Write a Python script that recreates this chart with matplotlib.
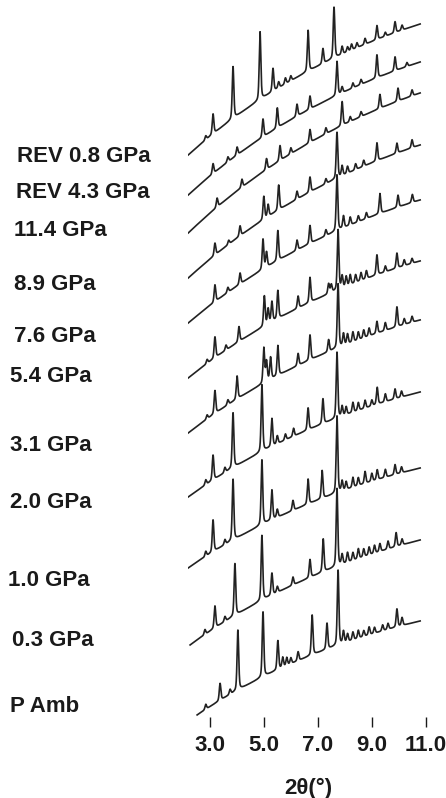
import numpy as np
from matplotlib import pyplot

# pressure labels, top to bottom
labels = ["REV 0.8 GPa", "REV 4.3 GPa", "11.4 GPa", "8.9 GPa", "7.6 GPa",
          "5.4 GPa", "3.1 GPa", "2.0 GPa", "1.0 GPa", "0.3 GPa", "P Amb"]

# background level at the first and last point of each pattern (stacked, arb. units)
level_start = [562, 522, 484, 439, 394, 339, 284, 220, 149, 72, 2]
level_end = [693, 655, 624, 572, 517, 456, 397, 325, 249, 177, 96]
theta_start = [2.2, 2.2, 2.2, 2.2, 2.2, 2.2, 2.2, 2.2, 2.2, 2.27, 2.53]
theta_end = 10.79

# reflections (2theta, intensity above background)
p_rev08 = [(2.85, 4), (3.12, 20), (3.86, 52), (4.86, 68), (5.34, 23), (5.55, 6), (5.8, 6),
           (6.0, 5), (6.64, 41), (7.19, 15), (7.60, 51), (7.9, 8), (8.1, 5), (8.25, 6),
           (8.45, 5), (8.75, 6), (9.19, 14), (9.5, 4), (9.86, 11), (10.12, 5)]
p_rev43 = [(3.12, 10), (3.67, 5), (4.01, 8), (4.97, 18), (5.5, 20), (6.23, 12), (6.71, 13),
           (7.71, 34), (7.9, 6), (8.3, 5), (8.6, 5), (9.19, 23), (9.86, 14), (10.3, 4)]
p_114 = [(3.27, 9), (4.19, 8), (5.1, 11), (5.6, 15), (6.0, 6), (6.71, 13), (7.3, 6),
         (7.90, 24), (8.2, 5), (8.6, 5), (9.30, 14), (9.97, 13), (10.49, 6)]
p_89 = [(3.19, 12), (3.7, 4), (4.12, 10), (5.0, 23), (5.16, 12), (5.55, 25), (6.23, 8),
        (6.71, 15), (7.3, 5), (7.71, 46), (7.9, 10), (8.1, 7), (8.4, 6), (8.7, 6),
        (9.19, 18), (9.93, 10), (10.49, 8)]
p_76 = [(3.19, 17), (3.67, 5), (4.12, 11), (4.97, 30), (5.1, 15), (5.52, 30), (6.23, 10),
        (6.71, 18), (7.3, 6), (7.71, 56), (7.95, 12), (8.2, 8), (8.5, 6), (8.8, 6),
        (9.3, 20), (9.97, 12), (10.5, 8)]
p_54 = [(2.9, 4), (3.19, 21), (3.6, 5), (4.08, 15), (5.02, 30), (5.16, 15), (5.3, 20),
        (5.52, 28), (6.27, 12), (6.71, 25), (7.4, 10), (7.5, 8), (7.75, 60), (7.9, 12),
        (8.05, 10), (8.2, 10), (8.4, 8), (8.6, 8), (8.8, 8), (9.19, 20), (9.5, 6),
        (9.93, 15), (10.2, 6), (10.49, 5)]
p_31 = [(2.9, 4), (3.19, 23), (3.67, 5), (4.01, 23), (5.0, 35), (5.1, 20), (5.25, 22),
        (5.52, 30), (6.27, 12), (6.71, 25), (7.4, 12), (7.75, 64), (7.95, 12), (8.1, 10),
        (8.3, 10), (8.5, 8), (8.7, 8), (8.9, 8), (9.19, 12), (9.5, 8), (9.93, 20),
        (10.2, 6), (10.49, 6)]
p_20 = [(2.85, 5), (3.12, 25), (3.56, 5), (3.86, 55), (4.93, 67), (5.3, 28), (5.5, 8),
        (5.8, 6), (6.1, 8), (6.64, 22), (7.19, 25), (7.71, 66), (7.9, 10), (8.05, 8),
        (8.3, 10), (8.5, 8), (8.75, 8), (9.0, 6), (9.2, 17), (9.5, 8), (9.86, 10), (10.1, 6)]
p_10 = [(2.85, 5), (3.12, 32), (3.56, 5), (3.86, 61), (4.93, 65), (5.3, 30), (5.5, 8),
        (6.08, 10), (6.64, 25), (7.16, 28), (7.71, 77), (7.9, 10), (8.05, 8), (8.3, 10),
        (8.5, 8), (8.75, 12), (9.0, 8), (9.2, 10), (9.5, 8), (9.86, 10), (10.1, 6)]
p_03 = [(2.82, 5), (3.19, 22), (3.56, 5), (3.93, 52), (4.93, 65), (5.3, 22), (5.5, 6),
        (6.08, 8), (6.71, 18), (7.2, 33), (7.71, 78), (7.9, 10), (8.1, 10), (8.3, 8),
        (8.5, 10), (8.7, 8), (8.9, 8), (9.1, 8), (9.3, 8), (9.6, 8), (9.9, 14), (10.12, 6)]
p_amb = [(2.85, 5), (3.38, 17), (3.75, 5), (4.04, 60), (4.97, 65), (5.52, 29), (5.7, 10),
         (5.85, 8), (6.0, 6), (6.27, 9), (6.79, 40), (7.34, 26), (7.75, 75), (7.95, 12),
         (8.1, 8), (8.3, 8), (8.5, 8), (8.7, 6), (8.9, 8), (9.1, 6), (9.4, 6), (9.6, 6),
         (9.93, 18), (10.12, 8)]
peaks = [p_rev08, p_rev43, p_114, p_89, p_76, p_54, p_31, p_20, p_10, p_03, p_amb]

ticks = [3, 5, 7, 9, 11]
tick_labels = ["3.0", "5.0", "7.0", "9.0", "11.0"]


def profile(x, center, height, width=0.07):
    d = (x - center) / width
    gauss = np.exp(-4 * np.log(2) * d ** 2)
    lorentz = 1 / (1 + 4 * d ** 2)
    return height * (0.6 * gauss + 0.4 * lorentz)


def pattern(i):
    x = np.linspace(theta_start[i], theta_end, 3000)
    t = (x - x[0]) / (x[-1] - x[0])
    k = 1.0
    y = level_start[i] + (level_end[i] - level_start[i]) * (1 - np.exp(-k * t)) / (1 - np.exp(-k))
    for c, h in peaks[i]:
        y = y + profile(x, c, h)
    return x, y


def main():
    pyplot.rcParams["font.family"] = ["Liberation Sans", "DejaVu Sans"]
    fig = pyplot.figure(figsize=[4.46, 7.98], dpi=100)
    ax = fig.add_axes([0.422, 0.1015, 0.5388, 0.8985])

    for i in range(len(labels)):
        x, y = pattern(i)
        ax.plot(x, y, color="#222222", lw=1.2)

    # label placement in pixels (left edge, vertical centre)
    label_x = [17, 16, 14, 14, 14, 10, 10, 10, 8, 12, 10]
    label_y = [156, 192, 231, 284, 337, 377, 445, 502, 580, 640, 706]
    for lab, px, py in zip(labels, label_x, label_y):
        fig.text(px / 446, 1 - py / 798, lab, fontsize=16, fontweight="bold",
                 ha="left", va="center", color="#1a1a1a")

    ax.set_xlim(2.2, 11.1)
    ax.set_ylim(0, 717)
    for s in ax.spines.values():
        s.set_visible(False)
    ax.set_yticks([])
    ax.set_xticks(ticks)
    ax.set_xticklabels(tick_labels, fontsize=16, fontweight="bold", color="#1a1a1a")
    ax.tick_params(axis="x", direction="out", length=7, width=1.0, pad=6, color="#1a1a1a")
    ax.set_xlabel("2θ(°)", fontsize=16, fontweight="bold", labelpad=16, color="#1a1a1a")

    fig.savefig("out.png", dpi=100)


if __name__ == '__main__':
    main()
